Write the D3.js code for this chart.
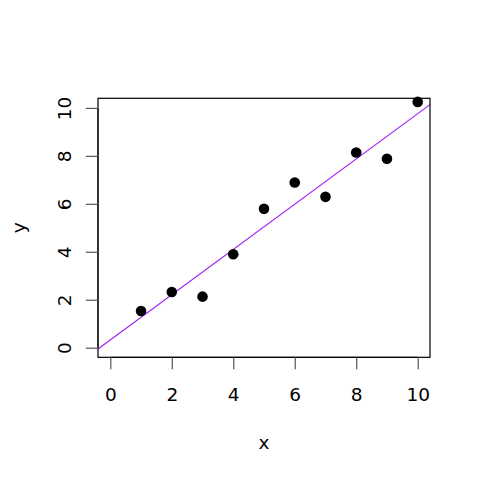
<!DOCTYPE html>
<html>
<head>
    <meta charset="utf-8">
    <title>scatter with fit line</title>
    <script src="https://d3js.org/d3.v7.min.js"></script>
    <style>
        body{ margin: 0; background: #fff; }
        text{ font-family: "DejaVu Sans", sans-serif; font-size: 18.5px; fill: #000; }
    </style>
</head>
<body>
<svg id="chart" width="480" height="480"></svg>
<script>
    /* data */
    var xs = [1, 2, 3, 4, 5, 6, 7, 8, 9, 10];
    var ys = [1.53, 2.32, 2.13, 3.90, 5.79, 6.89, 6.29, 8.14, 7.88, 10.25];
    var xTicks = [0, 2, 4, 6, 8, 10];
    var yTicks = [0, 2, 4, 6, 8, 10];

    var pl = 98, pr = 430, pt = 98.3, pb = 357.3;
    var svg = d3.select("#chart");

    // R style 4% padding around [0,10]
    var x = d3.scaleLinear().domain([-0.4, 10.4]).range([pl, pr]);
    var y = d3.scaleLinear().domain([-0.4, 10.4]).range([pb, pt]);

    /* least squares line */
    var mx = d3.mean(xs), my = d3.mean(ys);
    var sxy = 0, sxx = 0;
    for(var i=0; i<xs.length; i++){
        sxy += (xs[i]-mx)*(ys[i]-my);
        sxx += (xs[i]-mx)*(xs[i]-mx);
    }
    var b = sxy/sxx, a = my - b*mx;

    svg.append("defs").append("clipPath").attr("id", "clip")
        .append("rect").attr("x", pl).attr("y", pt)
        .attr("width", pr-pl).attr("height", pb-pt);

    svg.append("line")
        .attr("clip-path", "url(#clip)")
        .attr("x1", x(-0.4)).attr("y1", y(a + b*-0.4))
        .attr("x2", x(10.4)).attr("y2", y(a + b*10.4))
        .attr("stroke", "#A020F0").attr("stroke-width", 1.2);

    svg.selectAll("circle").data(xs).enter().append("circle")
        .attr("cx", function(d){ return x(d); })
        .attr("cy", function(d, i){ return y(ys[i]); })
        .attr("r", 5.3)
        .attr("fill", "#000");

    // box
    svg.append("rect")
        .attr("x", pl).attr("y", pt)
        .attr("width", pr-pl).attr("height", pb-pt)
        .attr("fill", "none").attr("stroke", "#000").attr("stroke-width", 1.2);

    // x axis
    var xAxis = d3.axisBottom(x).tickValues(xTicks).tickSize(12).tickFormat(d3.format("d"));
    var gx = svg.append("g").attr("transform", "translate(0," + pb + ")").call(xAxis);
    gx.select(".domain").attr("d", "M" + x(0) + ",0H" + x(10)).attr("stroke", "#000");
    gx.selectAll(".tick line").attr("stroke", "#555").attr("stroke-width", 1.2);
    gx.selectAll("text").attr("fill", "#000")
        .attr("dy", null).attr("y", 43.4);

    // y axis
    var yAxis = d3.axisLeft(y).tickValues(yTicks).tickSize(12).tickFormat(d3.format("d"));
    var gy = svg.append("g").attr("transform", "translate(" + pl + ",0)").call(yAxis);
    gy.select(".domain").attr("d", "M0," + y(0) + "V" + y(10)).attr("stroke", "#000");
    gy.selectAll(".tick line").attr("stroke", "#555").attr("stroke-width", 1.2);
    gy.selectAll("text").attr("fill", "#000")
        .attr("x", null).attr("dy", null)
        .attr("text-anchor", "middle")
        .attr("transform", "translate(-27,0) rotate(-90)");

    // axis titles
    svg.append("text").attr("x", (pl+pr)/2).attr("y", 449)
        .attr("text-anchor", "middle").text("x");
    svg.append("text")
        .attr("transform", "translate(25," + ((pt+pb)/2) + ") rotate(-90)")
        .attr("text-anchor", "middle").text("y");
</script>
</body>
</html>
